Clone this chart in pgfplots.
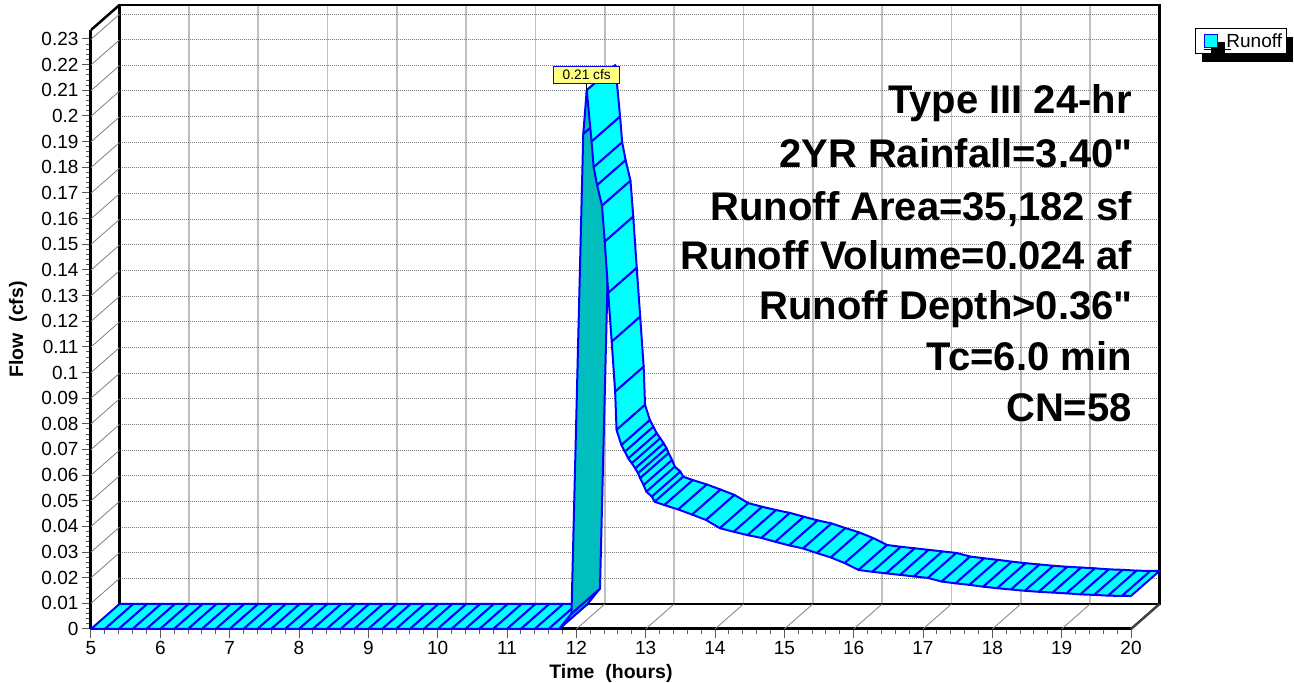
\documentclass[border=0pt]{standalone}
\usepackage{fontspec}
\setmainfont{Liberation Sans}
\usepackage{pgfplots}
\pgfplotsset{compat=1.18}
\usepackage{pgfplotstable}
\usetikzlibrary{shadows}

\definecolor{runcyan}{RGB}{0,255,255}
\definecolor{rundark}{RGB}{0,190,190}
\definecolor{runblue}{RGB}{0,0,255}
\definecolor{gridgray}{RGB}{128,128,128}
\definecolor{vgrid}{RGB}{192,192,192}
\definecolor{peakyellow}{RGB}{255,255,128}

\pgfkeys{/pgf/number format/assume math mode=true}

% depth of the pseudo-3D extrusion, in data units (28.5 px right, 25 px up)
\def\dT{0.4111}
\def\dQ{0.009747}

% hydrograph: time (hours), flow (cfs)
\pgfplotstableread{
t q
5.0 0
5.2 0
5.4 0
5.6 0
5.8 0
6.0 0
6.2 0
6.4 0
6.6 0
6.8 0
7.0 0
7.2 0
7.4 0
7.6 0
7.8 0
8.0 0
8.2 0
8.4 0
8.6 0
8.8 0
9.0 0
9.2 0
9.4 0
9.6 0
9.8 0
10.0 0
10.2 0
10.4 0
10.6 0
10.8 0
11.0 0
11.2 0
11.4 0
11.6 0
11.75 0
11.93 0.006
12.10 0.193
12.15 0.21
12.22 0.190
12.25 0.180
12.30 0.173
12.37 0.165
12.41 0.151
12.46 0.131
12.51 0.112
12.56 0.0925
12.58 0.0776
12.65 0.0717
12.70 0.0691
12.75 0.0665
12.80 0.0646
12.85 0.0626
12.89 0.0607
12.92 0.0588
12.97 0.0561
13.01 0.0535
13.09 0.0516
13.13 0.0496
13.27 0.0483
13.47 0.0466
13.67 0.0446
13.87 0.0425
14.07 0.0393
14.27 0.0379
14.47 0.0366
14.67 0.0355
14.87 0.0340
15.07 0.0326
15.27 0.0314
15.47 0.0296
15.67 0.0279
15.87 0.0257
16.07 0.0230
16.27 0.0223
16.47 0.0217
16.67 0.0211
16.87 0.0205
17.07 0.0199
17.27 0.0185
17.47 0.0178
17.67 0.0172
17.87 0.0165
18.07 0.0159
18.27 0.0154
18.47 0.0149
18.67 0.0145
18.87 0.0142
19.07 0.0139
19.27 0.0135
19.47 0.0133
19.67 0.0130
19.87 0.0129
20.00 0.0129
}\runoff

\pgfplotsset{
  ribbon/.style={forget plot, draw=runblue, line width=2pt, line join=round, line cap=round},
}

\begin{document}
\begin{tikzpicture}
\path[use as bounding box] (0pt,0pt) rectangle (1294pt,683pt);

% back wall with its grid
\begin{axis}[
  scale only axis, width=1040pt, height=599pt,
  at={(119.5pt,79pt)}, anchor=south west,
  xmin=5, xmax=20, ymin=0, ymax=0.2335,
  xtick={5,...,20}, ytick={0,0.01,...,0.23},
  xticklabels={}, yticklabels={},
  major tick length=0pt,
  grid=major,
  x grid style={vgrid, line width=1.6pt},
  y grid style={gridgray, line width=0.9pt, dash pattern=on 1pt off 1pt},
  axis line style={black, line width=2.5pt},
]
\end{axis}

% front axes, floor, side wall and the runoff ribbon
\begin{axis}[
  scale only axis, width=1040pt, height=599pt,
  at={(91pt,54pt)}, anchor=south west,
  xmin=5, xmax=20, ymin=0, ymax=0.2335,
  clip=false,
  axis x line=bottom, axis y line=left,
  axis line style={-, black, line width=3pt},
  tick align=outside,
  xtick={5,...,20}, minor x tick num=4,
  ytick={0,0.01,0.02,0.03,0.04,0.05,0.06,0.07,0.08,0.09,0.10,0.11,0.12,0.13,0.14,0.15,0.16,0.17,0.18,0.19,0.20,0.21,0.22,0.23},
  yticklabels={0,0.01,0.02,0.03,0.04,0.05,0.06,0.07,0.08,0.09,0.1,0.11,0.12,0.13,0.14,0.15,0.16,0.17,0.18,0.19,0.2,0.21,0.22,0.23},
  minor y tick num=4,
  major tick length=9pt, minor tick length=5pt,
  tick style={black!65, line width=1pt},
  tick label style={font=\fontsize{19}{21}\selectfont},
  scaled y ticks=false,
  xlabel={Time\ \ (hours)}, ylabel={Flow\ \ (cfs)},
  every axis x label/.style={at={(rel axis cs:0.5,0)}, yshift=-44pt, anchor=center,
    font=\bfseries\fontsize{19.5}{22}\selectfont},
  every axis y label/.style={at={(rel axis cs:0,0.5)}, xshift=-73pt, rotate=90, anchor=center,
    font=\bfseries\fontsize{19.5}{22}\selectfont},
  legend style={at={(rel axis cs:1.0615,1.0033)}, anchor=north west,
    draw=black, line width=1pt, fill=white,
    inner xsep=2pt, inner ysep=3pt,
    font=\fontsize{19}{21}\selectfont,
    drop shadow={shadow xshift=7pt, shadow yshift=-8pt, fill=black, opacity=1}},
  legend cell align=left,
]
\addlegendimage{legend image code/.code={%
  \path[draw=none, fill=none] (0pt,0pt) -- (27pt,0pt);
  \draw[fill=runcyan, draw=runblue, line width=1pt] (7pt,-6.5pt) rectangle (20pt,6.5pt);}}
\addlegendentry{Runoff}

% side wall and floor guide lines
\pgfplotsinvokeforeach{0,0.01,...,0.23}{
  \draw[gridgray, line width=0.8pt] (axis cs:5,#1) -- ++(28.5pt,25pt);
}
\pgfplotsinvokeforeach{6,...,19}{
  \draw[gridgray, line width=0.8pt] (axis cs:#1,0) -- ++(28.5pt,25pt);
}
\draw[black, line width=2.5pt] (axis cs:5,0.2335) -- ++(28.5pt,25pt);
\draw[black!75, line width=2.5pt] (axis cs:20,0) -- ++(28.5pt,25pt);

% ribbon: one face per time step, drawn from early to late
\pgfplotstablegetrowsof{\runoff}
\pgfmathtruncatemacro\nlast{\pgfplotsretval-2}
\pgfplotsforeachungrouped \i in {0,...,\nlast}{%
  \pgfmathtruncatemacro\j{\i+1}%
  \pgfplotstablegetelem{\i}{t}\of\runoff \let\ta\pgfplotsretval
  \pgfplotstablegetelem{\i}{q}\of\runoff \let\qa\pgfplotsretval
  \pgfplotstablegetelem{\j}{t}\of\runoff \let\tb\pgfplotsretval
  \pgfplotstablegetelem{\j}{q}\of\runoff \let\qb\pgfplotsretval
  \pgfmathsetmacro\taa{\ta+\dT}%
  \pgfmathsetmacro\qaa{\qa+\dQ}%
  \pgfmathsetmacro\tbb{\tb+\dT}%
  \pgfmathsetmacro\qbb{\qb+\dQ}%
  \pgfmathsetmacro\facing{(\tb-\ta)*173.33-(\qb-\qa)*7310}%
  \ifdim\facing pt>0pt \def\rfill{runcyan}\else\def\rfill{rundark}\fi
  \edef\ribbonface{\noexpand\addplot[ribbon, fill=\rfill] coordinates
    {(\ta,\qa) (\tb,\qb) (\tbb,\qbb) (\taa,\qaa) (\ta,\qa)};}%
  \ribbonface
}

% peak flag
\addplot[forget plot, black, line width=1pt] coordinates {(12.15,0.21) (12.15,0.2125)};
\addplot[forget plot, draw=none, mark=none,
  nodes near coords={\pgfmathprintnumber{\pgfplotspointmeta}~cfs},
  every node near coord/.style={anchor=south, yshift=6.4pt, fill=peakyellow, draw=runblue,
    line width=1.2pt, inner xsep=9pt, inner ysep=3.5pt, text=black,
    font=\fontsize{13.7}{15}\selectfont}]
  coordinates {(12.15,0.21)};
\end{axis}

% storm summary
\begin{scope}[every node/.style={anchor=base east, font=\bfseries\fontsize{40}{46}\selectfont, inner sep=0pt}]
\node at (1132pt,569pt) {Type III 24-hr};
\node at (1133pt,515pt) {2YR Rainfall=3.40\textquotedbl};
\node at (1132pt,462pt) {Runoff Area=35,182 sf};
\node at (1132pt,413pt) {Runoff Volume=0.024 af};
\node at (1133pt,363pt) {Runoff Depth>0.36\textquotedbl};
\node at (1132pt,312pt) {Tc=6.0 min};
\node at (1132pt,261pt) {CN=58};
\end{scope}
\end{tikzpicture}
\end{document}
